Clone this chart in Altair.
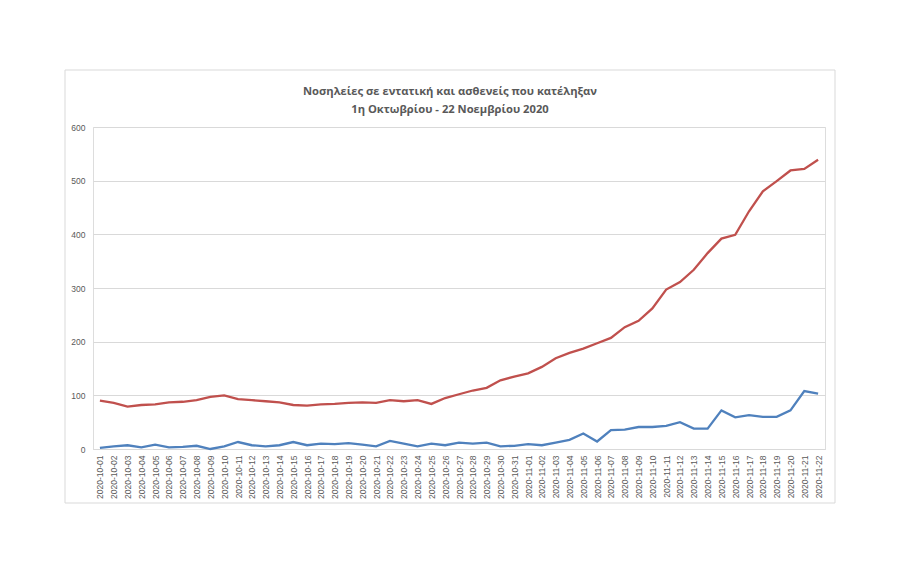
import altair as alt
import pandas as pd

# Daily dates, 1 Oct - 22 Nov 2020
dates = [f"2020-10-{d:02d}" for d in range(1, 32)] + [f"2020-11-{d:02d}" for d in range(1, 23)]

# Patients in intensive care
icu = [90, 86, 79, 82, 83, 87, 88, 91, 97, 100,
       93, 91, 89, 87, 82, 81, 83, 84, 86, 87,
       86, 91, 89, 91, 84, 95, 102, 109, 114, 128,
       135, 141, 153, 169, 179, 187, 197, 207, 227, 239,
       262, 297, 311, 334, 365, 392, 399, 443, 480, 499,
       519, 522, 539]

# Deaths
deaths = [2, 5, 7, 3, 8, 3, 4, 6, 0, 5,
          13, 7, 5, 7, 13, 7, 10, 9, 11, 8,
          5, 15, 10, 5, 10, 7, 12, 10, 12, 5,
          6, 9, 7, 12, 17, 29, 14, 35, 36, 41,
          41, 43, 50, 38, 38, 72, 59, 63, 60, 60,
          72, 108, 103]

series_names = ["ΜΕΘ", "Θάνατοι"]
series_colors = ["#C0504D", "#4F81BD"]

df = pd.DataFrame({
    "date": dates * 2,
    "value": icu + deaths,
    "series": [series_names[0]] * len(dates) + [series_names[1]] * len(dates),
})

grey_text = "#595959"
grid = "#d9d9d9"

lines = alt.Chart(df).mark_line(strokeWidth=2.3).encode(
    x=alt.X("date:O", sort=dates,
            scale=alt.Scale(type="point", padding=0.5),
            axis=alt.Axis(title=None, labelAngle=-90, labelFontSize=8.5,
                          labelColor=grey_text, labelFont="Liberation Sans",
                          labelPadding=6, ticks=False, domainColor=grid,
                          labelOverlap=False)),
    y=alt.Y("value:Q", scale=alt.Scale(domain=[0, 600]),
            axis=alt.Axis(title=None, values=[0, 100, 200, 300, 400, 500, 600],
                          labelFontSize=8.5, labelColor=grey_text,
                          labelFont="Liberation Sans", labelPadding=8,
                          ticks=False, domain=False, gridColor=grid)),
    color=alt.Color("series:N", scale=alt.Scale(domain=series_names, range=series_colors),
                    legend=None),
)

# Light frame around the whole chart area
frame = alt.Chart(pd.DataFrame({"k": [0]})).mark_rect(
    fill=None, stroke=grid, strokeWidth=1
).encode(
    x=alt.value(-28), x2=alt.value(742), y=alt.value(-57), y2=alt.value(376)
)

chart = alt.layer(frame, lines).properties(
    width=732,
    height=322,
    autosize=alt.AutoSizeParams(type="none"),
    padding={"left": 93, "top": 127, "right": 75, "bottom": 130},
    title=alt.TitleParams(
        text=["Νοσηλείες σε εντατική και ασθενείς που κατέληξαν",
              "1η Οκτωβρίου - 22 Νοεμβρίου 2020"],
        font="Open Sans", fontSize=11.2, fontWeight="bold", color=grey_text,
        anchor="middle", frame="group", dx=-9, offset=-46, lineHeight=18,
    ),
).configure_view(stroke=None).configure(background="white")

chart.save("out.html", embed_options={"renderer": "svg", "actions": False})
